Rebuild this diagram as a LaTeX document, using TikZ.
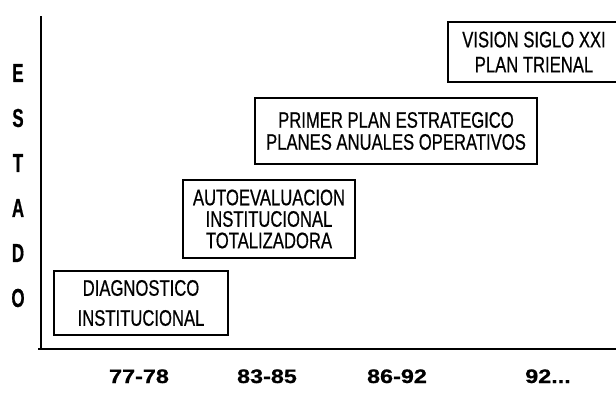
\documentclass[tikz,border=0pt]{standalone}
\usepackage{fontspec}
\newfontfamily\boxfont[FakeStretch=0.74,FakeBold=0.6]{Liberation Sans}
\newfontfamily\axfont[FakeStretch=0.65,FakeBold=0.5]{Liberation Sans Bold}
\newfontfamily\yearfont[FakeStretch=1.2,FakeBold=0.8]{Liberation Sans Bold}
\begin{document}
\begin{tikzpicture}[x=1pt,y=-1pt,
  stagebox/.style={draw=black,line width=2pt,inner sep=0pt,align=center,text=black},
  axislabel/.style={font=\axfont\fontsize{26}{26}\selectfont,anchor=center,inner sep=0pt},
  yearlabel/.style={font=\yearfont\fontsize{19.5}{19.5}\selectfont,anchor=base,inner sep=0pt},
  axisline/.style={line width=2.5pt,black}]
\useasboundingbox (0,0) rectangle (616,394);
\clip (0,0) rectangle (616,394);
% axes
\coordinate (top) at (41,16);
\coordinate (origin) at (41,349);
\coordinate (xend) at (618,349);
\coordinate (xstart) at (38,349);
\draw[axisline] (top) -- (origin);
\draw[axisline] (xstart) -- (xend);
% ESTADO
\node[axislabel] (e1) at (18,73) {E};
\node[axislabel] (e2) at (18,118) {S};
\node[axislabel] (e3) at (18,163) {T};
\node[axislabel] (e4) at (18,208) {A};
\node[axislabel] (e5) at (18,253) {D};
\node[axislabel] (e6) at (18,298) {O};
% years
\node[yearlabel] (y1) at (139,383) {77-78};
\node[yearlabel] (y2) at (267,383) {83-85};
\node[yearlabel] (y3) at (397,383) {86-92};
\node[yearlabel] (y4) at (548,383) {92...};
% boxes
\node[stagebox,minimum width=174pt,minimum height=64pt,font=\boxfont\fontsize{22.5}{30}\selectfont] (b1) at (141,303) {DIAGNOSTICO\\INSTITUCIONAL};
\node[stagebox,minimum width=172pt,minimum height=78pt,font=\boxfont\fontsize{22.5}{21.5}\selectfont] (b2) at (269,219) {AUTOEVALUACION\\INSTITUCIONAL\\TOTALIZADORA};
\node[stagebox,minimum width=282pt,minimum height=66pt,font=\boxfont\fontsize{22.5}{22}\selectfont] (b3) at (396,131) {PRIMER PLAN ESTRATEGICO\\PLANES ANUALES OPERATIVOS};
\node[stagebox,minimum width=172pt,minimum height=60pt,font=\boxfont\fontsize{22.5}{25}\selectfont] (b4) at (534,52) {VISION SIGLO XXI\\PLAN TRIENAL};
\end{tikzpicture}
\end{document}
